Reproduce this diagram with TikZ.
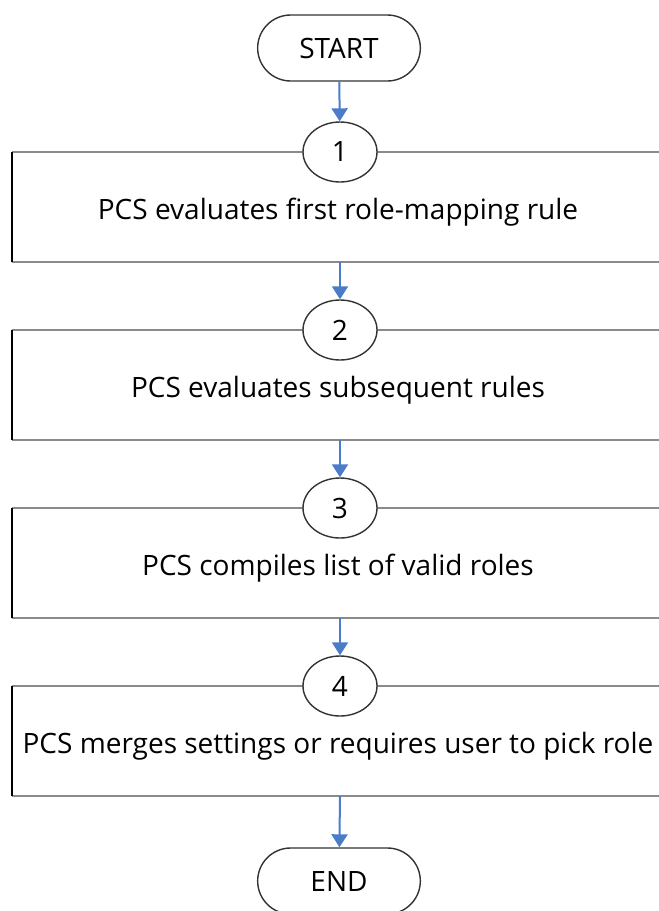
\documentclass[tikz,border=0pt]{standalone}
\usepackage{fontspec}
\setmainfont{Open Sans}
\usetikzlibrary{arrows.meta,shapes.misc,shapes.geometric}

\definecolor{flowblue}{HTML}{4A7CC9}
\definecolor{edgegray}{HTML}{8A8A8A}

\begin{document}
\begin{tikzpicture}[
  x=0.5pt,
  y=-0.5pt,
  terminal/.style={
    draw=black!80,
    line width=0.7pt,
    rounded rectangle,
    minimum width=88pt,
    minimum height=33pt,
    font=\fontsize{14}{16}\selectfont,
  },
  num/.style={
    draw=black!80,
    line width=0.7pt,
    ellipse,
    fill=white,
    minimum width=37pt,
    minimum height=30pt,
    inner sep=0pt,
    font=\fontsize{14}{16}\selectfont,
  },
  label/.style={
    font=\fontsize{14}{16}\selectfont,
    inner sep=0pt,
  },
  flow/.style={
    draw=flowblue,
    line width=1pt,
    -{Triangle[width=8pt,length=6.5pt]},
  },
  rim/.style={
    draw=edgegray,
    line width=1.2pt,
  },
  side/.style={
    draw=black,
    line width=1pt,
  },
]

\useasboundingbox (0,0) rectangle (659,911);

% Start and end
\node[terminal] (start) at (339,48) {START};
\node[terminal] (end) at (339,881) {END};

% Steps: box lines, number and text
\foreach \i/\txt in {
  1/{PCS evaluates first role-mapping rule},
  2/{PCS evaluates subsequent rules},
  3/{PCS compiles list of valid roles},
  4/{PCS merges settings or requires user to pick role}} {
  \pgfmathsetmacro\ytop{152+178*(\i-1)}
  \pgfmathsetmacro\ybot{\ytop+110}
  \coordinate (nw\i) at (12,\ytop);
  \coordinate (sw\i) at (12,\ybot);
  \coordinate (s\i) at (340,\ybot);
  \draw[rim] (659,\ytop) -- (nw\i);
  \draw[rim] (sw\i) -- (659,\ybot);
  \draw[side] (nw\i) -- (sw\i);
  \node[num] (c\i) at (340,\ytop) {\i};
  \node[label] (t\i) at (338,\ytop+60) {\txt};
}

% Arrows
\draw[flow] (start) -- (c1);
\foreach \i [evaluate=\i as \j using int(\i+1)] in {1,2,3}
  \draw[flow] (s\i) -- (c\j);
\draw[flow] (s4) -- (end);

\end{tikzpicture}
\end{document}
